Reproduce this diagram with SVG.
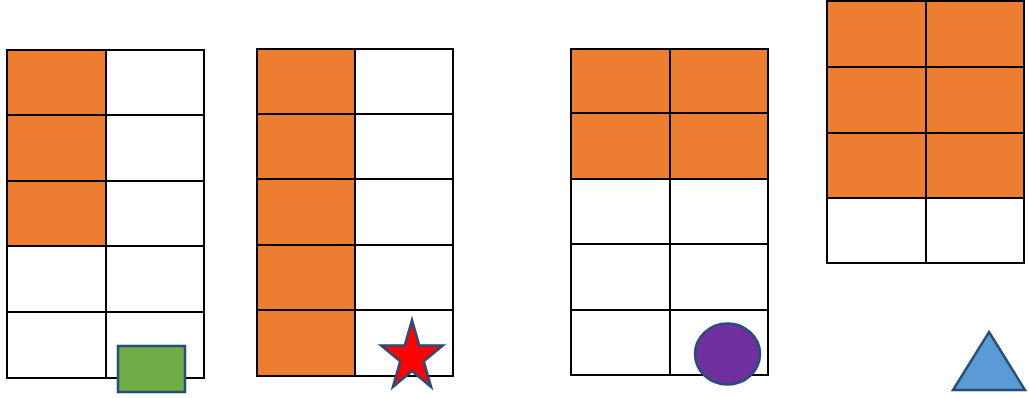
<svg xmlns="http://www.w3.org/2000/svg" width="1029" height="398" viewBox="0 0 1029 398">
<style>
.o{fill:#ED7D31}
.w{fill:#FFFFFF}
.g{fill:none;stroke:#000;stroke-width:2}
.sh{stroke:#264E78;stroke-width:2.5}
</style>
<rect width="1029" height="398" fill="#fff"/>
<g id="grid1">
<rect class="w" x="7" y="50" width="197" height="328"/>
<rect class="o" x="7" y="50" width="99" height="196"/>
<path class="g" d="M7 50H204V378H7Z M106 50V378 M7 115H204 M7 181H204 M7 246H204 M7 312H204"/>
</g>
<g id="grid2">
<rect class="w" x="257" y="49" width="196" height="327"/>
<rect class="o" x="257" y="49" width="98" height="327"/>
<path class="g" d="M257 49H453V376H257Z M355 49V376 M257 114H453 M257 179H453 M257 245H453 M257 310H453"/>
</g>
<g id="grid3">
<rect class="w" x="571" y="49" width="197" height="326"/>
<rect class="o" x="571" y="49" width="197" height="129"/>
<path class="g" d="M571 49H768V375H571Z M670 49V375 M571 113H768 M571 179H768 M571 244H768 M571 310H768"/>
</g>
<g id="grid4">
<rect class="w" x="827" y="1" width="197" height="262"/>
<rect class="o" x="827" y="1" width="197" height="197"/>
<path class="g" d="M827 1H1024V263H827Z M926 1V263 M827 67H1024 M827 133H1024 M827 198H1024"/>
</g>
<g id="square">
<rect class="sh" x="118" y="346" width="67" height="46" fill="#70AD47"/>
</g>
<g id="star">
<polygon class="sh" fill="#FF0000" points="412,320 419.3,345.6 442.9,345.6 423.8,361.4 431.1,386.9 412,371.1 392.9,386.9 400.2,361.4 381.1,345.6 404.7,345.6"/>
</g>
<g id="circle">
<ellipse class="sh" cx="727.5" cy="354" rx="32.5" ry="30.5" fill="#7030A0"/>
</g>
<g id="triangle">
<polygon class="sh" fill="#5B9BD5" points="989,332 1025,390 953,390"/>
</g>
<g id="connectors"></g>
</svg>
